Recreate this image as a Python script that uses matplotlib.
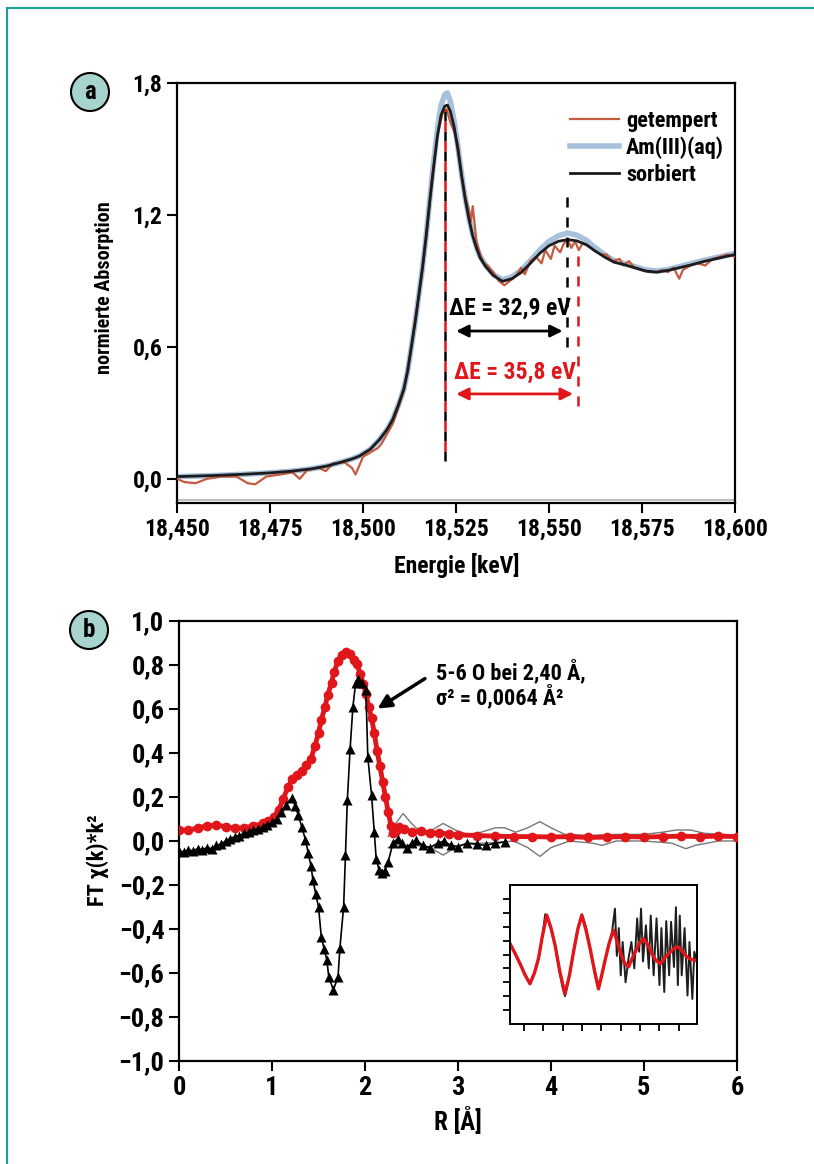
import matplotlib
matplotlib.use('Agg')
import matplotlib.pyplot as plt
from matplotlib.patches import Ellipse
from matplotlib.lines import Line2D

plt.rcParams['font.family'] = ['Roboto Condensed', 'DejaVu Sans']
plt.rcParams['font.weight'] = 'bold'

# --- (a) XANES spectra ---
e_sorb = [18450, 18460, 18467, 18475, 18481, 18486, 18490, 18494, 18497, 18499,
          18502, 18504.5, 18506.5, 18508, 18509.5, 18511, 18512, 18513, 18514, 18515,
          18516, 18517, 18518, 18519, 18520, 18521, 18522, 18522.7, 18523.5, 18524.5,
          18525.5, 18526.5, 18527.5, 18528.5, 18529.5, 18530.5, 18531.5, 18533, 18535, 18537.5,
          18540, 18542.5, 18545, 18547.5, 18550, 18552.5, 18555, 18557.5, 18560, 18562.5,
          18565, 18567.5, 18570, 18573, 18576, 18579, 18582, 18585, 18588, 18592,
          18596, 18600]
mu_sorb = [0.010, 0.015, 0.020, 0.027, 0.035, 0.045, 0.057, 0.075, 0.090, 0.103,
           0.135, 0.180, 0.225, 0.270, 0.335, 0.410, 0.490, 0.600, 0.710, 0.835,
           0.960, 1.110, 1.270, 1.420, 1.560, 1.655, 1.695, 1.700, 1.670, 1.600,
           1.500, 1.380, 1.270, 1.180, 1.105, 1.050, 1.005, 0.965, 0.925, 0.898,
           0.910, 0.938, 0.980, 1.025, 1.060, 1.080, 1.088, 1.082, 1.065, 1.035,
           1.008, 0.985, 0.975, 0.960, 0.945, 0.940, 0.948, 0.960, 0.972, 0.990,
           1.005, 1.020]
mu_aq = [0.010, 0.015, 0.020, 0.027, 0.035, 0.045, 0.057, 0.075, 0.090, 0.103,
         0.135, 0.180, 0.225, 0.270, 0.335, 0.410, 0.490, 0.600, 0.710, 0.835,
         0.960, 1.110, 1.280, 1.440, 1.590, 1.700, 1.748, 1.755, 1.715, 1.625,
         1.510, 1.385, 1.275, 1.185, 1.110, 1.055, 1.010, 0.970, 0.930, 0.905,
         0.918, 0.948, 0.992, 1.040, 1.080, 1.105, 1.118, 1.108, 1.085, 1.050,
         1.018, 0.992, 0.980, 0.965, 0.950, 0.945, 0.952, 0.965, 0.978, 0.995,
         1.010, 1.025]
e_temp = [18450, 18452, 18455, 18458, 18462, 18466, 18469, 18471, 18474, 18478,
          18481, 18483, 18485, 18488, 18490, 18492, 18495, 18497, 18498, 18500,
          18502, 18504, 18505, 18508, 18511, 18513, 18514, 18515, 18517, 18518.5,
          18520, 18521.5, 18522.5, 18523.5, 18524.5, 18525.5, 18526.5, 18527.5, 18528.5, 18529,
          18529.5, 18530.5, 18531.5, 18532.5, 18533.5, 18535, 18536.5, 18538, 18539.5, 18541,
          18542.5, 18543.5, 18545, 18546.5, 18548, 18549, 18550.5, 18551.5, 18553, 18554,
          18555, 18556, 18557, 18558, 18559, 18560.5, 18562, 18564, 18565.5, 18567,
          18569, 18570, 18571.5, 18573, 18575, 18577, 18579, 18580.5, 18582, 18583.5,
          18585, 18586, 18588, 18590, 18592, 18594, 18596, 18598, 18600]
mu_temp = [0.000, -0.015, -0.020, 0.000, 0.010, 0.010, -0.020, -0.025, 0.010, 0.020,
           0.030, 0.000, 0.040, 0.050, 0.035, 0.070, 0.075, 0.050, 0.020, 0.100,
           0.120, 0.140, 0.160, 0.250, 0.400, 0.600, 0.720, 0.830, 1.090, 1.360,
           1.560, 1.670, 1.680, 1.620, 1.580, 1.520, 1.380, 1.280, 1.220, 1.170,
           1.240, 1.080, 1.020, 0.980, 0.970, 0.940, 0.900, 0.880, 0.900, 0.920,
           0.960, 0.930, 0.990, 1.010, 0.980, 1.040, 1.000, 1.060, 1.030, 1.070,
           1.090, 1.050, 1.080, 1.040, 1.070, 1.060, 1.040, 1.020, 1.020, 0.990,
           1.000, 0.970, 0.990, 0.960, 0.950, 0.940, 0.940, 0.950, 0.940, 0.960,
           0.910, 0.950, 0.970, 0.980, 0.970, 1.000, 1.010, 1.020, 1.010]

e_edge = 18522.0
de_sorb = 32.9
de_temp = 35.8

xticks_a = [18450, 18475, 18500, 18525, 18550, 18575, 18600]
xlabels_a = ['18,450', '18,475', '18,500', '18,525', '18,550', '18,575', '18,600']
yticks_a = [0.0, 0.6, 1.2, 1.8]
ylabels_a = ['0,0', '0,6', '1,2', '1,8']

# --- (b) Fourier transforms ---
r_mag = [0.00, 0.10, 0.20, 0.30, 0.40, 0.50, 0.60, 0.70, 0.80, 0.90,
         0.96, 1.02, 1.07, 1.12, 1.17, 1.22, 1.27, 1.32, 1.37, 1.42,
         1.46, 1.50, 1.53, 1.57, 1.60, 1.64, 1.67, 1.71, 1.75, 1.80,
         1.84, 1.88, 1.91, 1.95, 1.98, 2.01, 2.04, 2.07, 2.10, 2.13,
         2.16, 2.19, 2.22, 2.25, 2.28, 2.30, 2.33, 2.37, 2.42, 2.50,
         2.60, 2.70, 2.80, 2.90, 3.00, 3.20, 3.40, 3.60, 3.80, 4.00,
         4.20, 4.40, 4.60, 4.80, 5.00, 5.20, 5.40, 5.60, 5.80, 6.00]
ft_mag = [0.050, 0.048, 0.060, 0.068, 0.073, 0.065, 0.058, 0.060, 0.068, 0.080,
          0.090, 0.110, 0.140, 0.190, 0.245, 0.280, 0.300, 0.318, 0.345, 0.375,
          0.430, 0.490, 0.550, 0.610, 0.665, 0.720, 0.770, 0.820, 0.845, 0.860,
          0.850, 0.825, 0.805, 0.760, 0.715, 0.670, 0.610, 0.560, 0.490, 0.410,
          0.340, 0.270, 0.200, 0.130, 0.070, 0.035, 0.045, 0.065, 0.055, 0.040,
          0.045, 0.035, 0.038, 0.030, 0.028, 0.025, 0.022, 0.020, 0.020, 0.018,
          0.020, 0.016, 0.018, 0.020, 0.018, 0.020, 0.022, 0.020, 0.022, 0.020]
r_im = [0.00, 0.05, 0.10, 0.15, 0.20, 0.25, 0.30, 0.35, 0.40, 0.45,
        0.50, 0.55, 0.60, 0.65, 0.70, 0.75, 0.80, 0.85, 0.90, 0.95,
        1.00, 1.05, 1.10, 1.15, 1.21, 1.25, 1.28, 1.32, 1.36, 1.39,
        1.42, 1.44, 1.47, 1.50, 1.53, 1.56, 1.59, 1.61, 1.66, 1.71,
        1.73, 1.77, 1.79, 1.81, 1.84, 1.87, 1.90, 1.93, 1.97, 2.01,
        2.03, 2.07, 2.10, 2.12, 2.15, 2.18, 2.21, 2.25, 2.30, 2.35,
        2.40, 2.45, 2.50, 2.55, 2.62, 2.70, 2.78, 2.85, 2.92, 3.00,
        3.10, 3.20, 3.30, 3.40, 3.50]
ft_im = [-0.045, -0.050, -0.040, -0.045, -0.035, -0.040, -0.030, -0.035, -0.020, -0.015,
         0.000, 0.010, 0.020, 0.025, 0.035, 0.040, 0.050, 0.055, 0.065, 0.075,
         0.085, 0.100, 0.130, 0.165, 0.195, 0.160, 0.120, 0.065, 0.005, -0.055,
         -0.115, -0.177, -0.240, -0.300, -0.435, -0.490, -0.540, -0.617, -0.677, -0.617,
         -0.487, -0.300, -0.064, 0.186, 0.420, 0.610, 0.720, 0.735, 0.720, 0.686,
         0.383, 0.210, 0.040, -0.080, -0.130, -0.147, -0.135, -0.094, -0.010, 0.010,
         -0.010, -0.030, -0.010, 0.005, -0.020, -0.030, -0.010, 0.000, -0.020, -0.025,
         -0.010, -0.015, -0.020, -0.010, -0.005]
r_fit = [2.25, 2.33, 2.41, 2.50, 2.60, 2.72, 2.84, 2.97, 3.10, 3.25,
         3.40, 3.50, 3.62, 3.75, 3.88, 4.00, 4.15, 4.40, 4.70, 5.00,
         5.20, 5.35, 5.50, 5.65, 5.85, 6.00]
fit_mag = [0.020, 0.080, 0.125, 0.080, 0.040, 0.050, 0.080, 0.050, 0.030, 0.040,
           0.060, 0.060, 0.040, 0.060, 0.088, 0.060, 0.030, 0.025, 0.030, 0.030,
           0.040, 0.050, 0.050, 0.035, 0.030, 0.025]
r_fit2 = [2.25, 2.40, 2.55, 2.70, 2.84, 2.97, 3.10, 3.30, 3.60, 3.75,
          3.88, 4.00, 4.20, 4.45, 4.55, 4.70, 5.00, 5.30, 5.45, 5.55,
          5.80, 6.00]
fit_im = [-0.030, -0.020, -0.020, -0.030, -0.064, -0.030, -0.010, -0.010, 0.000, -0.030,
          -0.070, -0.030, 0.000, -0.010, -0.020, 0.000, 0.000, -0.010, -0.035, -0.020,
          0.000, 0.000]

yticks_b = [1.0, 0.8, 0.6, 0.4, 0.2, 0.0, -0.2, -0.4, -0.6, -0.8, -1.0]
ylabels_b = ['1,0', '0,8', '0,6', '0,4', '0,2', '0,0',
             '\u22120,2', '\u22120,4', '\u22120,6', '\u22120,8', '\u22121,0']
xticks_b = [0, 1, 2, 3, 4, 5, 6]

# inset: chi(k)
k_data = [1.28, 1.55, 1.80, 2.05, 2.31, 2.50, 2.75, 2.95, 3.10, 3.20,
          3.40, 3.61, 3.85, 4.00, 4.12, 4.30, 4.56, 4.80, 4.99, 5.20,
          5.42, 5.65, 5.85, 6.00, 6.19, 6.40, 6.55, 6.70, 6.80, 6.90,
          7.00, 7.10, 7.25, 7.40, 7.55, 7.70, 7.85, 7.95, 8.05, 8.15,
          8.30, 8.45, 8.55, 8.70, 8.85, 9.00, 9.10, 9.25, 9.35, 9.50,
          9.60, 9.75, 9.85, 9.95, 10.05, 10.15, 10.30, 10.45, 10.55, 10.70,
          10.80, 10.94]
chi_data = [0.8, 0.1, -0.7, -1.4, -2.1, -1.5, -0.3, 1.3, 2.9, 2.7,
            1.8, 0.6, -1.3, -2.4, -3.0, -1.9, 0.2, 2.0, 2.9, 2.0,
            0.4, -1.3, -2.5, -1.6, -0.5, 0.8, 1.6, 3.3, -0.1, 1.9,
            -1.5, 0.9, -2.0, -0.3, 0.9, -1.0, 2.6, 0.2, 3.3, -0.5,
            2.1, -1.0, 2.8, -1.5, 2.6, -2.2, 1.9, -2.7, 2.4, -1.5,
            2.35, -0.9, 3.4, -2.2, 2.8, -1.5, 1.9, -2.95, 0.9, -3.2,
            0.2, -0.5]
k_fit = [1.28, 1.55, 1.80, 2.05, 2.31, 2.55, 2.75, 2.95, 3.18, 3.40,
         3.61, 3.85, 4.12, 4.35, 4.56, 4.78, 4.99, 5.20, 5.42, 5.65,
         5.85, 6.00, 6.19, 6.40, 6.62, 6.80, 6.97, 7.20, 7.40, 7.55,
         7.75, 7.95, 8.18, 8.40, 8.61, 8.80, 9.04, 9.30, 9.56, 9.80,
         9.99, 10.20, 10.42, 10.65, 10.85]
chi_fit = [0.78, 0.05, -0.66, -1.45, -2.11, -1.30, -0.30, 1.30, 2.83, 1.90,
           0.66, -1.20, -2.83, -1.50, 0.18, 1.80, 2.83, 1.80, 0.42, -1.20,
           -2.47, -1.60, -0.42, 0.80, 1.75, 1.00, 0.18, -0.60, -0.90, -0.40,
           0.18, 0.80, 1.14, 0.70, 0.06, -0.40, -0.66, -0.20, 0.18, 0.50,
           0.54, 0.20, -0.18, -0.35, -0.42]

c_temp = '#c65a40'
c_aq = '#a7c1dd'
c_red = '#e0161b'
teal = '#1b9e96'

W, H = 814, 1164
fig = plt.figure(figsize=(W / 100, H / 100), dpi=100)

# frame lines
fig.add_artist(Line2D([7 / W, 1], [1 - 8 / H, 1 - 8 / H], color=teal, lw=1.5))
fig.add_artist(Line2D([7 / W, 7 / W], [0, 1 - 8 / H], color=teal, lw=1.5))


def style_axes(ax, lw=1.6):
    for s in ax.spines.values():
        s.set_linewidth(lw)
    ax.tick_params(direction='out', length=7, width=1.5, top=False, right=False)


# ---------- panel a ----------
ax1 = fig.add_axes([177 / W, 1 - 503 / H, 558 / W, 420 / H])
ax1.plot(e_sorb, mu_aq, color=c_aq, lw=4, label='Am(III)(aq)', zorder=2)
ax1.plot(e_temp, mu_temp, color=c_temp, lw=1.6, label='getempert', zorder=3)
ax1.plot(e_sorb, mu_sorb, color='#1c1c1c', lw=2.0, label='sorbiert', zorder=4)
ax1.axhline(-0.095, color='#b0b0b0', lw=1.2, zorder=1)

ax1.plot([e_edge, e_edge], [0.08, 1.70], color='black', lw=1.8, linestyle=(0, (4, 4)), zorder=5)
ax1.plot([e_edge, e_edge], [0.08, 1.68], color=c_red, lw=1.8, linestyle=(4, (4, 4)), zorder=5)
ax1.plot([e_edge + de_sorb] * 2, [0.60, 1.32], color='black', lw=1.8,
         linestyle=(0, (4, 4)), zorder=5)
ax1.plot([e_edge + de_temp] * 2, [0.33, 1.04], color=c_red, lw=1.8,
         linestyle=(0, (4, 4)), zorder=5)

ax1.annotate('', xy=(e_edge + 2.3, 0.672), xytext=(e_edge + de_sorb - 0.5, 0.672),
             arrowprops=dict(arrowstyle='<|-|>', color='black', lw=2, mutation_scale=18))
ax1.annotate('', xy=(e_edge + 2.3, 0.386), xytext=(e_edge + de_temp - 0.6, 0.386),
             arrowprops=dict(arrowstyle='<|-|>', color=c_red, lw=2, mutation_scale=18))
ax1.text(e_edge + 1.2, 0.775, '\u0394E = 32,9 eV', fontsize=17, color='black',
         va='center', ha='left', bbox=dict(facecolor='white', edgecolor='none', pad=1))
ax1.text(e_edge + 2.5, 0.485, '\u0394E = 35,8 eV', fontsize=17, color=c_red,
         va='center', ha='left')

ax1.set_xlim(18450, 18600)
ax1.set_ylim(-0.11, 1.8)
ax1.set_xticks(xticks_a)
ax1.set_xticklabels(xlabels_a, fontsize=17)
ax1.set_yticks(yticks_a)
ax1.set_yticklabels(ylabels_a, fontsize=17)
style_axes(ax1)
h, l = ax1.get_legend_handles_labels()
order = [1, 0, 2]
ax1.legend([h[i] for i in order], [l[i] for i in order], loc='upper left',
           bbox_to_anchor=(0.685, 0.962), frameon=False, fontsize=16,
           handlelength=2.2, handletextpad=0.3, labelspacing=0.2, borderpad=0)

fig.text(104 / W, 1 - 288 / H, 'normierte Absorption', rotation=90, fontsize=14.5,
         ha='center', va='center')
fig.text(457 / W, 1 - 566 / H, 'Energie [keV]', fontsize=17, ha='center', va='center')

# ---------- panel b ----------
ax2 = fig.add_axes([179 / W, 1 - 1061 / H, 558 / W, 440 / H])
ax2.plot(r_fit, fit_mag, color='#777777', lw=1.0, zorder=2)
ax2.plot(r_fit2, fit_im, color='#777777', lw=1.0, zorder=2)
ax2.plot(r_mag, ft_mag, color=c_red, lw=3.5, marker='o', ms=7, mec='none', zorder=3)
ax2.plot(r_im, ft_im, color='black', lw=1.2, marker='^', ms=7, mec='none', zorder=4)

ax2.annotate('', xy=(2.11, 0.595), xytext=(2.67, 0.745),
             arrowprops=dict(arrowstyle='-|>', color='black', lw=2.5, mutation_scale=20))
ax2.text(2.76, 0.71, '5-6 O bei 2,40 \u00c5,\n\u03c3\u00b2 = 0,0064 \u00c5\u00b2',
         fontsize=16, ha='left', va='center', linespacing=1.0)

ax2.set_xlim(0, 6)
ax2.set_ylim(-1, 1)
ax2.set_xticks(xticks_b)
ax2.set_xticklabels([str(x) for x in xticks_b], fontsize=19)
ax2.set_yticks(yticks_b)
ax2.set_yticklabels(ylabels_b, fontsize=19)
style_axes(ax2)

fig.text(98 / W, 1 - 860 / H, 'FT \u03c7(k)*k\u00b2', rotation=90, fontsize=16,
         ha='center', va='center')
fig.text(458 / W, 1 - 1121 / H, 'R [\u00c5]', fontsize=18, ha='center', va='center')

# inset
ax3 = fig.add_axes([510 / W, 1 - 1024 / H, 187 / W, 139 / H])
ax3.plot(k_data, chi_data, color='#1e1e1e', lw=1.4)
ax3.plot(k_fit, chi_fit, color=c_red, lw=2.4)
ax3.set_xlim(1.28, 10.94)
ax3.set_ylim(-5, 5)
ax3.set_xticks(range(2, 11))
ax3.set_yticks(range(-4, 5))
ax3.set_xticklabels([])
ax3.set_yticklabels([])
style_axes(ax3, lw=1.4)
ax3.tick_params(length=5, width=1.3)

# panel labels
for (cx, cy, s) in [(90, 92, 'a'), (89, 630, 'b')]:
    fig.add_artist(Ellipse((cx / W, 1 - cy / H), 38 / W, 38 / H, facecolor='#a8d4cf',
                           edgecolor='black', lw=1.5, transform=fig.transFigure))
    fig.text(cx / W, 1 - cy / H, s, fontsize=18, ha='center', va='center')

fig.savefig('out.png', dpi=100)
